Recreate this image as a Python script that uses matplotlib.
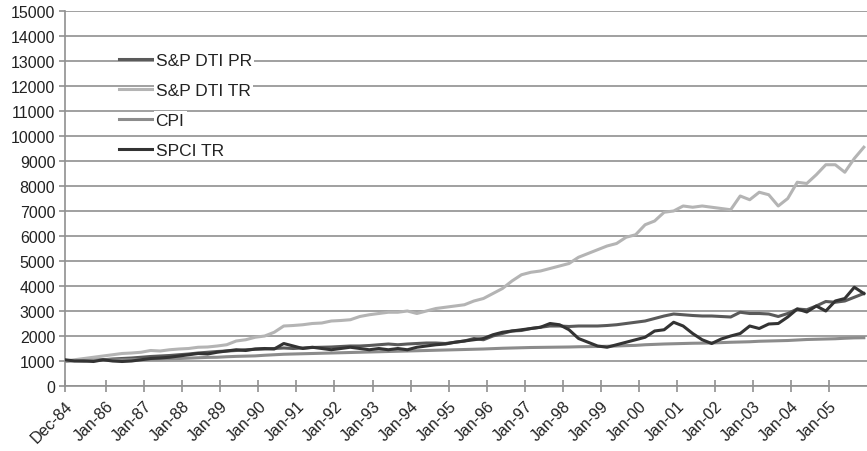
import matplotlib
matplotlib.use('Agg')
import matplotlib.pyplot as plt
import matplotlib.transforms as mtransforms

plt.rcParams['font.family'] = ['Liberation Sans', 'DejaVu Sans']

# months since Dec-84, quarterly
months = [0, 3, 6, 9, 12, 15, 18, 21, 24, 27, 30, 33, 36, 39, 42, 45, 48, 51, 54, 57,
          60, 63, 66, 69, 72, 75, 78, 81, 84, 87, 90, 93, 96, 99, 102, 105, 108, 111, 114, 117,
          120, 123, 126, 129, 132, 135, 138, 141, 144, 147, 150, 153, 156, 159, 162, 165, 168, 171, 174, 177,
          180, 183, 186, 189, 192, 195, 198, 201, 204, 207, 210, 213, 216, 219, 222, 225, 228, 231, 234, 237,
          240, 243, 246, 249, 252]

dti_pr = [1000, 1020, 1000, 1030, 1050, 1080, 1100, 1120, 1150, 1180, 1200, 1220, 1250, 1280, 1320, 1350, 1380, 1400, 1420, 1450,
          1470, 1480, 1500, 1520, 1500, 1520, 1540, 1550, 1560, 1580, 1600, 1600, 1620, 1650, 1680, 1650, 1680, 1700, 1720, 1720,
          1700, 1750, 1800, 1900, 1850, 2000, 2100, 2200, 2220, 2300, 2350, 2400, 2400, 2380, 2400, 2400, 2400, 2420, 2450, 2500,
          2550, 2600, 2700, 2800, 2880, 2850, 2820, 2800, 2800, 2780, 2760, 2950, 2900, 2900, 2880, 2780, 2900, 3080, 3050, 3200,
          3380, 3350, 3400, 3550, 3700]

dti_tr = [1000, 1050, 1100, 1150, 1200, 1250, 1300, 1320, 1350, 1420, 1400, 1450, 1480, 1500, 1550, 1560, 1600, 1650, 1800, 1850,
          1950, 2000, 2150, 2400, 2420, 2450, 2500, 2520, 2600, 2620, 2650, 2780, 2850, 2900, 2950, 2950, 3000, 2900, 3000, 3100,
          3150, 3200, 3250, 3400, 3500, 3700, 3900, 4200, 4450, 4550, 4600, 4700, 4800, 4900, 5150, 5300, 5450, 5600, 5700, 5950,
          6050, 6450, 6600, 6950, 7000, 7200, 7150, 7200, 7150, 7100, 7050, 7600, 7450, 7750, 7650, 7200, 7500, 8150, 8100, 8450,
          8850, 8850, 8550, 9100, 9550]

cpi = [1000, 1010, 1020, 1030, 1040, 1040, 1045, 1050, 1055, 1070, 1085, 1095, 1100, 1115, 1130, 1145, 1150, 1170, 1185, 1195,
       1205, 1230, 1250, 1270, 1280, 1290, 1300, 1310, 1320, 1330, 1340, 1350, 1360, 1370, 1380, 1390, 1400, 1410, 1420, 1430,
       1440, 1450, 1460, 1470, 1480, 1495, 1510, 1520, 1530, 1540, 1545, 1550, 1555, 1560, 1570, 1575, 1580, 1590, 1600, 1615,
       1625, 1650, 1665, 1680, 1690, 1700, 1710, 1715, 1720, 1735, 1750, 1760, 1770, 1790, 1800, 1810, 1820, 1840, 1860, 1870,
       1880, 1890, 1910, 1925, 1930]

spci_tr = [1050, 1000, 1000, 980, 1050, 1000, 980, 1000, 1050, 1100, 1120, 1150, 1200, 1250, 1300, 1280, 1350, 1400, 1450, 1420,
           1480, 1500, 1480, 1700, 1600, 1500, 1550, 1500, 1450, 1500, 1550, 1500, 1450, 1500, 1450, 1500, 1450, 1550, 1600, 1650,
           1680, 1750, 1800, 1850, 1900, 2050, 2150, 2200, 2250, 2300, 2350, 2500, 2450, 2250, 1900, 1750, 1600, 1550, 1650, 1750,
           1850, 1950, 2200, 2250, 2550, 2400, 2100, 1850, 1700, 1880, 2000, 2100, 2400, 2300, 2480, 2500, 2760, 3080, 2960, 3200,
           3000, 3400, 3500, 3950, 3700]

tick_months = [0, 13, 25, 37, 49, 61, 73, 85, 97, 109, 121, 133, 145, 157, 169, 181, 193, 205, 217, 229, 241]
tick_labels = ['Dec-84', 'Jan-86', 'Jan-87', 'Jan-88', 'Jan-89', 'Jan-90', 'Jan-91', 'Jan-92', 'Jan-93', 'Jan-94',
               'Jan-95', 'Jan-96', 'Jan-97', 'Jan-98', 'Jan-99', 'Jan-00', 'Jan-01', 'Jan-02', 'Jan-03', 'Jan-04', 'Jan-05']

fig = plt.figure(figsize=(8.67, 4.52), dpi=100)
ax = fig.add_axes([0.075, 0.1438, 0.925, 0.8297])

ax.plot(months, dti_pr, color='#5a5a5a', lw=2.2, label='S&P DTI PR', zorder=3)
ax.plot(months, dti_tr, color='#b4b4b4', lw=2.2, label='S&P DTI TR', zorder=3)
ax.plot(months, cpi, color='#8c8c8c', lw=2.2, label='CPI', zorder=3)
ax.plot(months, spci_tr, color='#333333', lw=2.2, label='SPCI TR', zorder=4)

ax.set_xlim(0, 253)
ax.set_ylim(0, 15000)
ax.set_yticks(range(0, 15001, 1000))
ax.yaxis.grid(True, color='#a0a0a0', lw=1.4)
ax.set_axisbelow(True)

ax.set_xticks(tick_months)
ax.set_xticklabels(tick_labels, rotation=45, ha='right', rotation_mode='anchor')
offset = mtransforms.ScaledTranslation(12 / 72, 0, fig.dpi_scale_trans)
for lbl in ax.get_xticklabels():
    lbl.set_transform(lbl.get_transform() + offset)

for s in ['top', 'right']:
    ax.spines[s].set_visible(False)
for s in ['left', 'bottom']:
    ax.spines[s].set_color('#909090')
    ax.spines[s].set_linewidth(1.2)
ax.tick_params(axis='x', direction='inout', length=9, width=1.2, color='#909090',
               labelsize=11.5, labelcolor='#222222', pad=4)
ax.tick_params(axis='y', direction='out', length=4, width=1.2, color='#909090',
               labelsize=11.5, labelcolor='#222222', pad=3)

leg = ax.legend(loc='upper left', bbox_to_anchor=(0.048, 0.93), frameon=False,
                fontsize=12.5, handlelength=1.9, handletextpad=0.2, labelspacing=0.85)
for t in leg.get_texts():
    t.set_color('#222222')
    t.set_bbox(dict(facecolor='white', edgecolor='none', pad=1.5))

plt.savefig('out.png', dpi=100)
